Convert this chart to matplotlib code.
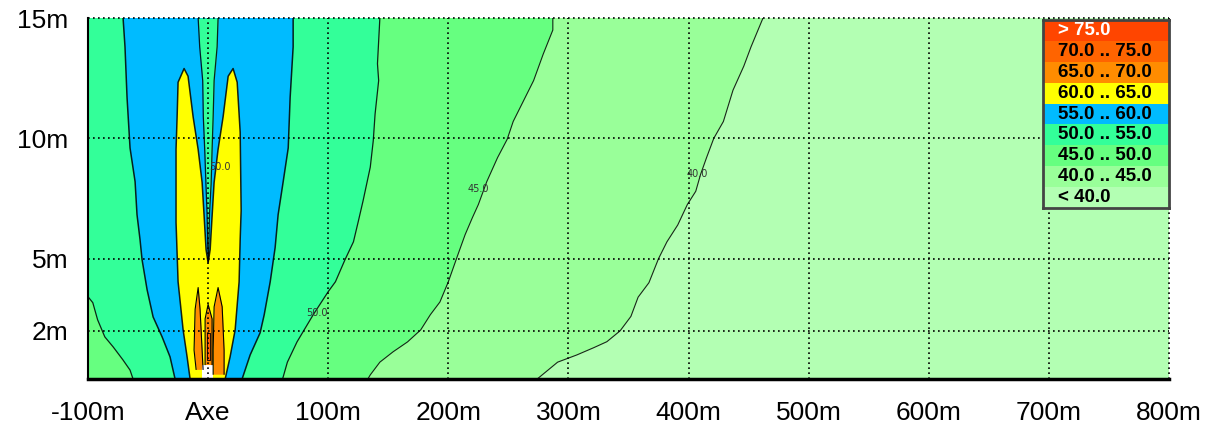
import numpy as np
import matplotlib.pyplot as plt

plt.rcParams['font.family'] = ['Liberation Sans', 'DejaVu Sans']

# axis ticks
x_ticks = [-100, 0, 100, 200, 300, 400, 500, 600, 700, 800]
x_tick_labels = ['-100m', 'Axe', '100m', '200m', '300m', '400m', '500m', '600m', '700m', '800m']
y_ticks = [2, 5, 10, 15]
y_tick_labels = ['2m', '5m', '10m', '15m']

# noise classes (dB(A)), top row first
legend_labels = ['> 75.0', '70.0 .. 75.0', '65.0 .. 70.0', '60.0 .. 65.0', '55.0 .. 60.0',
                 '50.0 .. 55.0', '45.0 .. 50.0', '40.0 .. 45.0', '< 40.0']
legend_colors = ['#ff4500', '#ff6400', '#ff8c00', '#ffff00', '#00bbff',
                 '#33ff99', '#66ff80', '#99ff99', '#b3ffb3']
c75, c70, c65, c60, c55, c50, c45, c40, c00 = legend_colors

# iso-lines: distance from axis (m), height (m), from the ground up
iso40_x = [274, 291, 307, 321, 332, 343, 352, 358, 367, 375, 382, 391, 399, 406, 410, 415, 421, 429, 437, 446, 452, 462]
iso40_y = [0, 0.7, 1.0, 1.3, 1.55, 2.0, 2.6, 3.4, 4.0, 5.0, 5.7, 6.4, 7.25, 7.8, 8.5, 9.2, 10.0, 10.7, 12.0, 13.0, 13.8, 15.0]

iso45_x = [133, 135, 143, 154, 166, 177, 185, 193, 200, 208, 214, 220, 225, 232, 241, 249, 254, 262, 271, 279, 287, 287]
iso45_y = [0, 0.17, 0.7, 1.13, 1.54, 2.04, 2.67, 3.2, 4.04, 5.17, 6.0, 6.7, 7.25, 8.2, 9.2, 9.96, 10.7, 11.5, 12.4, 13.5, 14.5, 15.0]

iso50r_x = [62, 66, 74, 87.5, 100, 106, 114, 121, 125, 129, 135, 137.5, 139, 142, 141, 143]
iso50r_y = [0, 0.7, 1.54, 2.67, 3.63, 4.04, 4.96, 5.7, 6.54, 7.4, 8.8, 9.9, 11.0, 12.4, 13.1, 15.0]

iso50l_x = [-62.5, -65, -71, -79, -86, -92, -96, -100]
iso50l_y = [0, 0.37, 0.8, 1.33, 1.75, 2.46, 3.17, 3.42]

iso55l_x = [-27.5, -31.7, -38.3, -45.8, -50.8, -55, -56.7, -59.2, -60.8, -65, -67.5, -69.2, -70.8]
iso55l_y = [0, 0.92, 1.75, 2.58, 3.71, 4.96, 5.8, 6.83, 8.2, 9.6, 11.7, 13.8, 15.0]

iso55r_x = [28.3, 35, 43.3, 46.7, 51.7, 55.8, 58.3, 62.5, 66.7, 68.3, 70.8, 70.8]
iso55r_y = [0, 1.0, 1.92, 2.67, 4.04, 5.46, 6.83, 8.2, 9.6, 11.7, 13.8, 15.0]

# narrow 50-55 gap above the road
gap_y = [15, 13.8, 12.4, 10.9, 9.5, 8.1, 6.9, 5.5, 4.9]
gap_xl = [-8.3, -7, -4.5, -4, -2.8, -1.8, -0.9, -0.3, 0.2]
gap_xr = [8.3, 7.5, 5, 4.2, 3.3, 2.5, 1.2, 0.6, 0.2]

# 60 dB twin lobes, traced around
iso60_x = [-15, -17.5, -20.8, -25, -26.7, -26.7, -25.8, -25, -20, -16.7, -12.5, -8.3, -5, -3.3, -1.7, 0,
           1.7, 3.3, 5, 8.3, 12.5, 16.7, 20.8, 24.2, 26.7, 27.5, 26.7, 25.8, 22.5, 18.3, 14.2]
iso60_y = [0, 0.92, 2.04, 4.04, 6.5, 9.54, 10.9, 12.33, 12.9, 12.58, 10.9, 9.54, 8.17, 6.75, 5.37, 4.83,
           5.37, 6.75, 8.17, 9.54, 10.9, 12.58, 12.9, 12.33, 10.25, 7.0, 5.8, 4.04, 2.04, 0.92, 0]

# 65 dB fingers next to the carriageways
f65l_y = [0.4, 1.2, 2.9, 3.8]
f65l_xl = [-10, -11.7, -10.8, -8.3]
f65l_xr = [-4.2, -5, -6.7, -8.3]
f65c_y = [0.6, 2.5, 3.1]
f65c_xl = [-2.5, -2.5, 0]
f65c_xr = [3.3, 3.3, 0]
f65r_y = [0.2, 1.2, 3.0, 3.8]
f65r_xl = [4.2, 4.2, 5, 8.3]
f65r_xr = [13.3, 13.3, 11.7, 8.3]
f70_y = [0.8, 1.9]
f70_xl = [-1, -1]
f70_xr = [1.7, 1.7]

fig = plt.figure(figsize=(12.21, 4.28), dpi=100)
ax = fig.add_axes([88 / 1221, 49 / 428, 1081 / 1221, 361 / 428])
ax.set_facecolor(c00)

ax.fill([-100] + iso40_x + [-100], [0] + iso40_y + [15], color=c40, lw=0)
ax.fill([-100] + iso45_x + [-100], [0] + iso45_y + [15], color=c45, lw=0)
ax.fill(iso50l_x + [-100] + iso50r_x[::-1], iso50l_y + [15] + iso50r_y[::-1], color=c50, lw=0)
ax.fill(iso55l_x + iso55r_x[::-1], iso55l_y + iso55r_y[::-1], color=c55, lw=0)
ax.fill_betweenx(gap_y, gap_xl, gap_xr, color=c50, lw=0)
ax.fill(iso60_x, iso60_y, color=c60, lw=0)
for fy, fl, fr in [(f65l_y, f65l_xl, f65l_xr), (f65c_y, f65c_xl, f65c_xr), (f65r_y, f65r_xl, f65r_xr)]:
    ax.fill_betweenx(fy, fl, fr, color=c65, lw=0)
    ax.plot(fl + fr[::-1], fy + fy[::-1], color='k', lw=0.8)
ax.fill_betweenx(f70_y, f70_xl, f70_xr, color=c70, lw=0.6, edgecolor='k')
ax.fill_betweenx([0, 0.6], -5, 4.2, color='white', lw=0)

# iso-lines
for lx, ly, lw in [(iso40_x, iso40_y, 0.8), (iso45_x, iso45_y, 0.8), (iso50r_x, iso50r_y, 0.9),
                   (iso50l_x, iso50l_y, 0.9), (iso55l_x, iso55l_y, 1.1), (iso55r_x, iso55r_y, 1.1),
                   (gap_xl, gap_y, 0.9), (gap_xr, gap_y, 0.9), (iso60_x, iso60_y, 1.1)]:
    ax.plot(lx, ly, color='k', lw=lw, alpha=0.85)

for tx, ty, s in [(91, 2.75, '50.0'), (225, 7.9, '45.0'), (407, 8.5, '40.0'), (10, 8.8, '50.0')]:
    ax.text(tx, ty, s, fontsize=7, color='#333333', family='DejaVu Sans', ha='center', va='center', zorder=4)

dots = (0, (1, 2))
for xt in x_ticks:
    ax.axvline(xt, color='k', ls=dots, lw=1.2, zorder=5, clip_on=False)
for yt in y_ticks:
    ax.axhline(yt, color='k', ls=dots, lw=1.2, zorder=5, clip_on=False)

ax.set_xlim(-100, 800)
ax.set_ylim(0, 15)
ax.set_xticks(x_ticks, x_tick_labels, fontsize=19)
ax.set_yticks(y_ticks, y_tick_labels, fontsize=19)
ax.tick_params(axis='x', length=0, pad=16)
ax.tick_params(axis='y', length=0, pad=14)
for side in ['top', 'right']:
    ax.spines[side].set_visible(False)
ax.spines['left'].set_linewidth(1.5)
ax.spines['bottom'].set_linewidth(2.5)

# legend box
lax = fig.add_axes([1043 / 1221, 220 / 428, 126 / 1221, 188 / 428])
rows = np.arange(len(legend_labels))
lax.barh(rows, 1, height=1, color=legend_colors)
for r, lab in zip(rows, legend_labels):
    lax.text(0.12, r, lab, fontsize=13.5, fontweight='bold', va='center',
             color='white' if r == 0 else 'black')
lax.set_xlim(0, 1)
lax.set_ylim(len(legend_labels) - 0.5, -0.5)
lax.set_xticks([])
lax.set_yticks([])
for sp in lax.spines.values():
    sp.set_color('#444444')
    sp.set_linewidth(2)

plt.savefig('out.png', dpi=100)
